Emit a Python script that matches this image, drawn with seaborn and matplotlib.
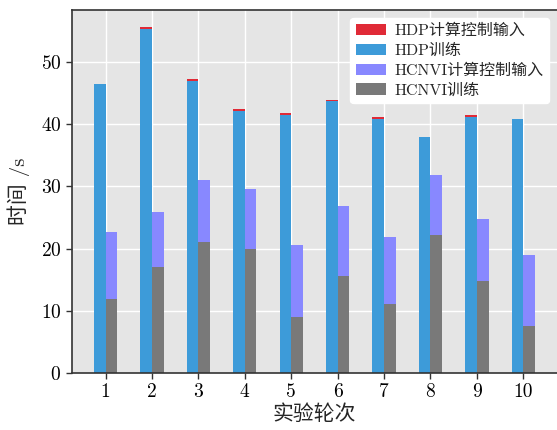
import numpy as np
import pandas as pd
import matplotlib
matplotlib.use("Agg")
import matplotlib.pyplot as plt
import seaborn as sns

# ---- data ----
rounds = [1, 2, 3, 4, 5, 6, 7, 8, 9, 10]
hdp_train = [46.4, 55.4, 47.0, 42.2, 41.5, 43.7, 40.9, 37.9, 41.2, 40.8]
hdp_ctrl = [0.05, 0.3, 0.3, 0.3, 0.3, 0.25, 0.25, 0.05, 0.25, 0.05]
hcnvi_train = [11.9, 17.1, 21.1, 20.0, 9.0, 15.6, 11.0, 22.1, 14.7, 7.6]
hcnvi_ctrl = [10.8, 8.7, 9.9, 9.5, 11.5, 11.3, 10.8, 9.7, 10.0, 11.4]

labels = ["HDP计算控制输入", "HDP训练", "HCNVI计算控制输入", "HCNVI训练"]
colors = ["#e02a37", "#3d9bd9", "#8888ff", "#797979"]

sns.set_style("darkgrid", {
    "axes.facecolor": "#e5e5e5",
    "grid.color": "white",
    "axes.edgecolor": "#333333",
    "xtick.bottom": True,
    "ytick.left": True,
    "axes.spines.right": False,
})
plt.rcParams["font.family"] = ["cmr10", "Noto Sans CJK SC"]
plt.rcParams["axes.formatter.use_mathtext"] = True
plt.rcParams["xtick.color"] = "#333333"
plt.rcParams["ytick.color"] = "#333333"
plt.rcParams["xtick.labelcolor"] = "black"
plt.rcParams["ytick.labelcolor"] = "black"

df = pd.DataFrame({
    "round": rounds,
    "hdp_total": np.array(hdp_train) + np.array(hdp_ctrl),
    "hdp_train": hdp_train,
    "hcnvi_total": np.array(hcnvi_train) + np.array(hcnvi_ctrl),
    "hcnvi_train": hcnvi_train,
})
w = 0.25
df["x_hdp"] = df["round"] - w / 2
df["x_hcnvi"] = df["round"] + w / 2

fig = plt.figure(figsize=(5.57, 4.30), dpi=100)
ax = fig.add_axes([0.129, 0.133, 0.871, 0.844])

layers = [("x_hdp", "hdp_total"), ("x_hdp", "hdp_train"),
          ("x_hcnvi", "hcnvi_total"), ("x_hcnvi", "hcnvi_train")]
for (xc, yc), lab, col in zip(layers, labels, colors):
    sns.barplot(data=df, x=xc, y=yc, native_scale=True, width=w,
                color=col, saturation=1, label=lab, ax=ax, errorbar=None,
                linewidth=0, edgecolor="none")

ax.set_xticks(rounds)
ax.set_xticklabels([str(r) for r in rounds])
ax.set_xlim(0.275, 10.725)
ax.set_ylim(0, 58.4)
ax.set_yticks([0, 10, 20, 30, 40, 50])
ax.tick_params(axis="both", labelsize=14, length=4, width=1.0, direction="out")
ax.set_xlabel("实验轮次", fontsize=15, labelpad=2)
ax.set_ylabel("时间 /s", fontsize=15, labelpad=8)
for s in ["left", "bottom", "top"]:
    ax.spines[s].set_linewidth(1.2)
ax.grid(True, color="white", linewidth=1.0)
ax.set_axisbelow(True)

leg = ax.legend(loc="upper right", fontsize=11.5, frameon=True, facecolor="white",
                edgecolor="white", framealpha=1, borderaxespad=0.5,
                handlelength=1.9, labelspacing=0.35, borderpad=0.35,
                handletextpad=0.5)

fig.savefig("out.png", dpi=100)
